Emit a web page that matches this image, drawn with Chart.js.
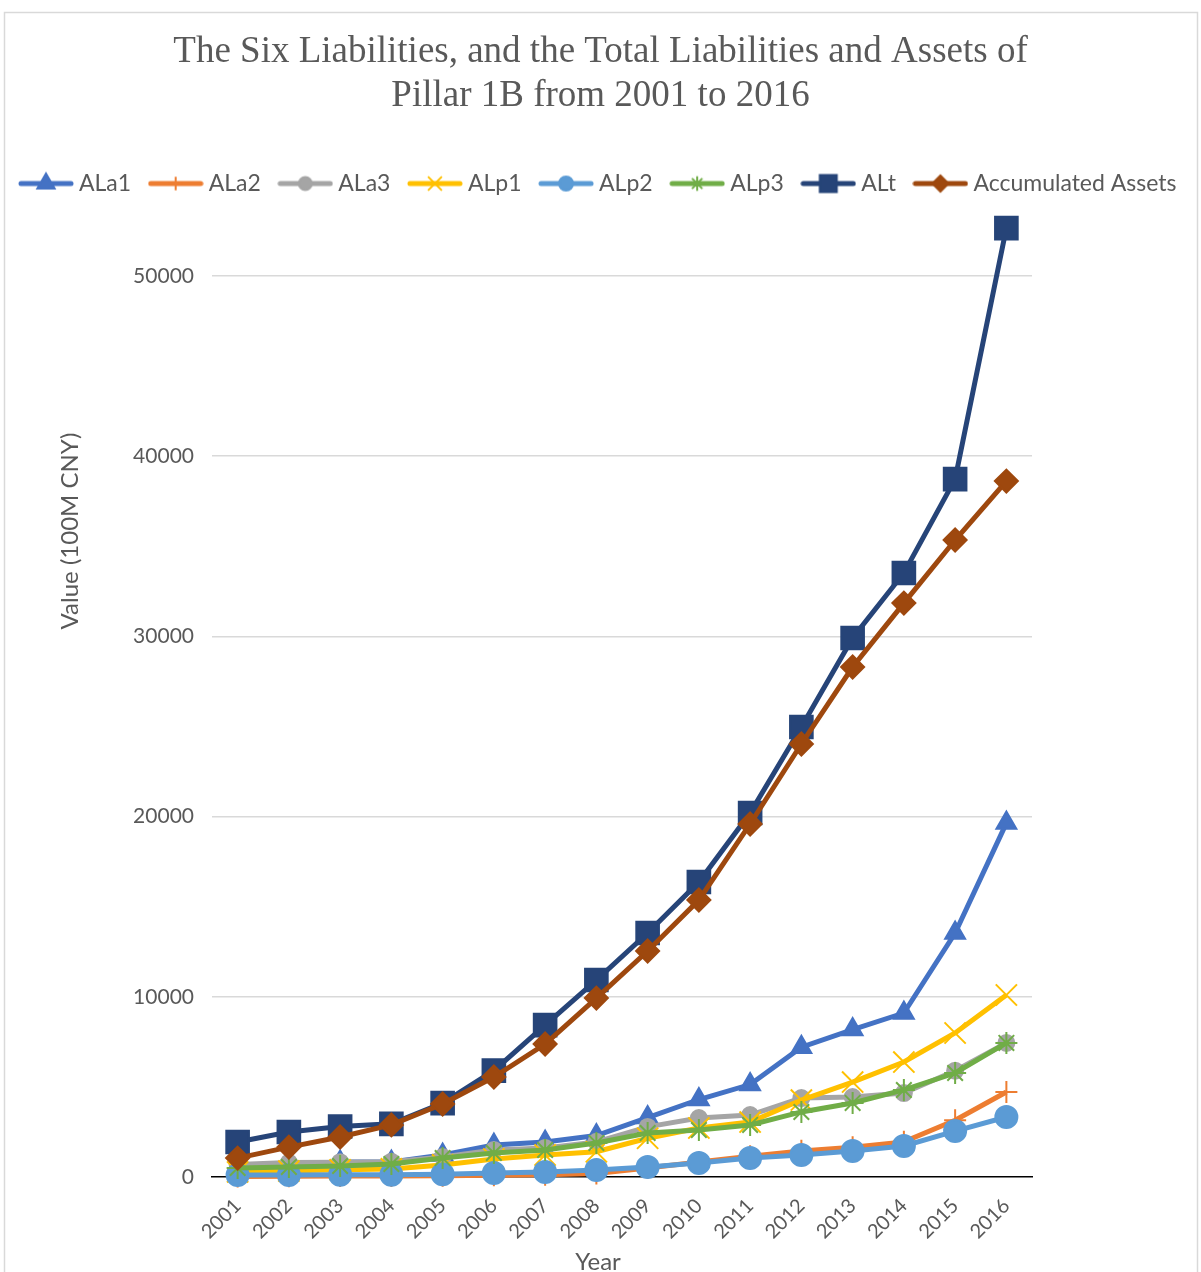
<!DOCTYPE html>
<html lang="en">
<head>
    <meta charset="UTF-8">
    <title>Pillar 1B Liabilities and Assets</title>
    <script src="https://cdn.jsdelivr.net/npm/chart.js"></script>
    <style>
        body {
            margin: 0;
            padding: 0;
            background-color: #ffffff;
        }
        #chart {
            display: block;
        }
    </style>
</head>
<body>
    <canvas id="chart" width="1201" height="1272"></canvas>
    <script>
        // values (100M CNY)
        const years = ['2001', '2002', '2003', '2004', '2005', '2006', '2007', '2008',
                       '2009', '2010', '2011', '2012', '2013', '2014', '2015', '2016'];
        const ala1 = [600, 700, 830, 830, 1220, 1780, 1940, 2300, 3300, 4300, 5130, 7200, 8180, 9100, 13540, 19640];
        const ala2 = [30, 40, 50, 60, 70, 100, 130, 200, 500, 830, 1150, 1450, 1650, 1950, 3150, 4720];
        const ala3 = [700, 800, 820, 850, 1110, 1500, 1610, 1950, 2780, 3270, 3440, 4380, 4440, 4660, 5900, 7440];
        const alp1 = [280, 330, 400, 450, 670, 1000, 1220, 1400, 2150, 2720, 3050, 4270, 5270, 6380, 7990, 10100];
        const alp2 = [110, 110, 120, 130, 150, 220, 280, 390, 560, 780, 1050, 1220, 1440, 1720, 2550, 3330];
        const alp3 = [500, 560, 610, 720, 1050, 1330, 1500, 1890, 2440, 2610, 2890, 3610, 4110, 4830, 5770, 7440];
        const alt = [1940, 2500, 2800, 2950, 4100, 5900, 8430, 10930, 13540, 16370, 20200, 24970, 29910, 33520, 38730, 52660];
        const accumulated = [1050, 1660, 2220, 2890, 4050, 5550, 7380, 9930, 12540, 15370, 19590, 24030, 28300, 31850, 35350, 38620];
        const yTicks = [0, 10000, 20000, 30000, 40000, 50000];

        const series = [
            { label: 'ALa1', data: ala1, color: '#4472C4', style: 'triangle', radius: 11.5, legendRadius: 10 },
            { label: 'ALa2', data: ala2, color: '#ED7D31', style: 'cross', radius: 11, legendRadius: 6 },
            { label: 'ALa3', data: ala3, color: '#A5A5A5', style: 'circle', radius: 8, legendRadius: 6.5 },
            { label: 'ALp1', data: alp1, color: '#FFC000', style: 'crossRot', radius: 15, legendRadius: 9 },
            { label: 'ALp2', data: alp2, color: '#5B9BD5', style: 'circle', radius: 11, legendRadius: 7 },
            { label: 'ALp3', data: alp3, color: '#70AD47', style: 'star', radius: 11, legendRadius: 6.5 },
            { label: 'ALt', data: alt, color: '#264478', style: 'rect', radius: 16, legendRadius: 12 },
            { label: 'Accumulated Assets', data: accumulated, color: '#9E480E', style: 'rectRot', radius: 11.5, legendRadius: 8 }
        ];

        const textColor = '#595959';
        const sansFont = 'Lato, "Open Sans", sans-serif';
        const pxPer10k = 180.2;

        // small line + marker pictures for the legend
        function makeIcon(s) {
            const c = document.createElement('canvas');
            c.width = 56;
            c.height = 26;
            const g = c.getContext('2d');
            g.strokeStyle = s.color;
            g.fillStyle = s.color;
            g.lineWidth = 5;
            g.lineCap = 'round';
            g.beginPath();
            g.moveTo(3, 13);
            g.lineTo(53, 13);
            g.stroke();
            g.lineWidth = 2;
            Chart.helpers.drawPoint(g, {
                pointStyle: s.style,
                radius: s.legendRadius,
                rotation: 0,
                borderWidth: 2
            }, 28, 13);
            return c;
        }
        const icons = series.map(makeIcon);

        const datasets = series.map((s, i) => ({
            label: s.label,
            data: s.data,
            borderColor: s.color,
            backgroundColor: s.color,
            borderWidth: 5,
            pointStyle: s.style,
            pointRadius: s.radius,
            pointHoverRadius: s.radius,
            pointBorderWidth: 2,
            pointBackgroundColor: s.color,
            pointBorderColor: s.color,
            tension: 0,
            clip: false,
            order: series.length - 1 - i
        }));

        const frameAndTitles = {
            id: 'frameAndTitles',
            beforeDraw(chart) {
                const ctx = chart.ctx;
                ctx.save();
                ctx.fillStyle = '#ffffff';
                ctx.fillRect(0, 0, chart.width, chart.height);
                ctx.strokeStyle = '#d9d9d9';
                ctx.lineWidth = 1.5;
                ctx.strokeRect(4.5, 12.5, chart.width - 8, chart.height + 20);
                ctx.restore();
            },
            afterDraw(chart) {
                const ctx = chart.ctx;
                ctx.save();
                ctx.font = '24px ' + sansFont;
                ctx.fillStyle = textColor;
                ctx.textAlign = 'center';
                ctx.textBaseline = 'middle';
                ctx.fillText('Year', 598, 1262);
                ctx.translate(70, 531);
                ctx.rotate(-Math.PI / 2);
                ctx.fillText('Value (100M CNY)', 0, 0);
                ctx.restore();
            }
        };

        const chart = new Chart(document.getElementById('chart').getContext('2d'), {
            type: 'line',
            data: { labels: years, datasets: datasets },
            plugins: [frameAndTitles],
            options: {
                responsive: false,
                animation: false,
                layout: { padding: 0 },
                plugins: {
                    tooltip: { enabled: false },
                    title: {
                        display: true,
                        text: ['The Six Liabilities, and the Total Liabilities and Assets of',
                               'Pillar 1B from 2001 to 2016'],
                        color: textColor,
                        font: { family: '"Liberation Serif", "Times New Roman", serif', size: 37, weight: 'normal', lineHeight: 1.19 },
                        padding: { top: 30, bottom: 31 }
                    },
                    legend: {
                        position: 'top',
                        reverse: true,
                        labels: {
                            usePointStyle: true,
                            pointStyleWidth: 43,
                            padding: 23,
                            color: textColor,
                            font: { family: sansFont, size: 23 },
                            generateLabels(c) {
                                const items = Chart.defaults.plugins.legend.labels.generateLabels(c);
                                items.forEach(it => { it.pointStyle = icons[it.datasetIndex]; });
                                return items;
                            }
                        }
                    }
                },
                scales: {
                    x: {
                        type: 'category',
                        offset: true,
                        grid: { display: false, drawTicks: false },
                        border: { display: true, color: '#000000', width: 1.5 },
                        ticks: {
                            color: textColor,
                            font: { family: sansFont, size: 20 },
                            minRotation: 45,
                            maxRotation: 45,
                            padding: 17,
                            autoSkip: false
                        },
                        afterFit(scale) { scale.height = 95; }
                    },
                    y: {
                        min: 0,
                        max: 54000,
                        border: { display: false },
                        grid: {
                            drawTicks: false,
                            lineWidth: 1.5,
                            color: ctx => (ctx.tick && ctx.tick.value === 0) ? 'rgba(0,0,0,0)' : '#d9d9d9'
                        },
                        ticks: {
                            color: textColor,
                            font: { family: sansFont, size: 21 },
                            padding: 18,
                            callback: v => String(v)
                        },
                        afterBuildTicks(scale) {
                            scale.ticks = yTicks.map(v => ({ value: v }));
                        },
                        afterFit(scale) { scale.width = 212; }
                    },
                    // empty space on the right, as in the picture
                    spacer: {
                        type: 'linear',
                        position: 'right',
                        display: true,
                        grid: { display: false, drawTicks: false },
                        border: { display: false },
                        ticks: { display: false },
                        afterFit(scale) { scale.width = 169; }
                    }
                }
            }
        });

        // keep 10000 units at the same height as in the picture
        const area = chart.chartArea;
        chart.options.scales.y.max = Math.round((area.bottom - area.top) / pxPer10k * 10000);
        chart.update();
    </script>
</body>
</html>
